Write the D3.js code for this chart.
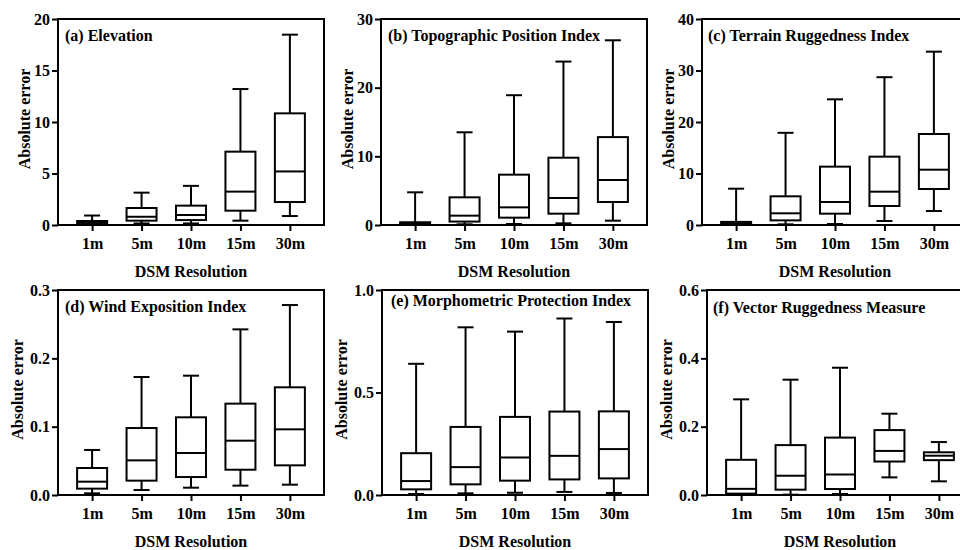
<!DOCTYPE html>
<html>
<head>
<meta charset="utf-8">
<script src="https://cdn.jsdelivr.net/npm/d3@7"></script>
<style>
  html, body { margin: 0; padding: 0; background: #fff; }
  svg { display: block; }
  svg text { font-family: "Liberation Serif", "Times New Roman", Tinos, "DejaVu Serif", serif; font-weight: 700; fill: #000; }
</style>
</head>
<body>
<svg id="chart" width="960" height="550"></svg>
<script>
// ---------- DATA ----------
const categories = ["1m", "5m", "10m", "15m", "30m"];
const panelTitles = [
  "(a) Elevation",
  "(b) Topographic Position Index",
  "(c) Terrain Ruggedness Index",
  "(d) Wind Exposition Index",
  "(e) Morphometric Protection Index",
  "(f) Vector Ruggedness Measure"
];
const yAxisLabel = "Absolute error";
const xAxisLabel = "DSM Resolution";

// [min, q1, median, q3, max]
const elevation = [
  [0.02, 0.05, 0.2, 0.39, 0.92],
  [0.15, 0.42, 0.8, 1.65, 3.14],
  [0.15, 0.48, 0.97, 1.88, 3.8],
  [0.42, 1.39, 3.24, 7.12, 13.2],
  [0.87, 2.23, 5.2, 10.84, 18.48]
];
const tpi = [
  [0.02, 0.05, 0.2, 0.4, 4.76],
  [0.1, 0.5, 1.36, 4.03, 13.5],
  [0.15, 1.07, 2.57, 7.33, 18.9],
  [0.24, 1.65, 3.93, 9.8, 23.8],
  [0.63, 3.35, 6.55, 12.8, 26.9]
];
const tri = [
  [0.02, 0.1, 0.3, 0.6, 7.05],
  [0.13, 0.9, 2.27, 5.57, 17.9],
  [0.2, 2.2, 4.47, 11.33, 24.4],
  [0.78, 3.69, 6.47, 13.27, 28.7],
  [2.72, 6.99, 10.74, 17.67, 33.66]
];
const wei = [
  [0.0024, 0.0093, 0.0195, 0.0395, 0.0659],
  [0.0073, 0.021, 0.0507, 0.098, 0.1727],
  [0.0107, 0.0263, 0.0615, 0.1137, 0.1746],
  [0.0137, 0.037, 0.0795, 0.1337, 0.2424],
  [0.0151, 0.0434, 0.0961, 0.1576, 0.278]
];
const mpi = [
  [0.005, 0.0276, 0.068, 0.204, 0.64],
  [0.008, 0.052, 0.136, 0.332, 0.818],
  [0.011, 0.07, 0.183, 0.381, 0.797],
  [0.015, 0.076, 0.191, 0.407, 0.861],
  [0.01, 0.081, 0.224, 0.408, 0.844]
];
const vrm = [
  [0.001, 0.004, 0.018, 0.103, 0.28],
  [0.001, 0.0156, 0.0564, 0.146, 0.3375],
  [0.003, 0.0175, 0.06, 0.168, 0.3725],
  [0.0516, 0.098, 0.129, 0.19, 0.238],
  [0.04, 0.102, 0.115, 0.125, 0.155]
];

const yTicksA = [0, 5, 10, 15, 20];
const yTicksB = [0, 10, 20, 30];
const yTicksC = [0, 10, 20, 30, 40];
const yTicksD = [0, 0.1, 0.2, 0.3];
const yTicksE = [0, 0.5, 1.0];
const yTicksF = [0, 0.2, 0.4, 0.6];

const panelData = [elevation, tpi, tri, wei, mpi, vrm];
const panelTicks = [yTicksA, yTicksB, yTicksC, yTicksD, yTicksE, yTicksF];
const tickFormats = [d3.format("d"), d3.format("d"), d3.format("d"), d3.format(".1f"), d3.format(".1f"), d3.format(".1f")];

// ---------- LAYOUT ----------
const layout = [
  { x0: 58,  top: 19,  bottom: 225, titleDy: 22, titleDx: 7, ylab: 28 },
  { x0: 381, top: 19,  bottom: 225, titleDy: 22, titleDx: 7, ylab: 28 },
  { x0: 702, top: 19,  bottom: 225, titleDy: 22, titleDx: 6, ylab: 28 },
  { x0: 58,  top: 290, bottom: 495, titleDy: 22, titleDx: 7, ylab: 35 },
  { x0: 382, top: 290, bottom: 495, titleDy: 16, titleDx: 9, ylab: 35 },
  { x0: 707, top: 290, bottom: 495, titleDy: 23, titleDx: 6, ylab: 35 }
];
const plotW = 266;
const boxW = 30;
const capW = 16;
const sw = 2;
const fontSize = 16;
const FONT = '"Liberation Serif", "Times New Roman", Tinos, "DejaVu Serif", serif';

const svg = d3.select("#chart");

function styleText(sel) {
  sel.attr("font-size", fontSize).attr("font-family", FONT).attr("font-weight", 700).attr("fill", "#000");
}

layout.forEach((L, i) => {
  const g = svg.append("g");
  const x = d3.scalePoint().domain(categories).range([L.x0, L.x0 + plotW]).padding(0.69);
  const ticks = panelTicks[i];
  const y = d3.scaleLinear().domain([0, ticks[ticks.length - 1]]).range([L.bottom, L.top]);

  // y axis
  const yAxis = d3.axisLeft(y).tickValues(ticks).tickSize(6).tickPadding(2).tickFormat(tickFormats[i]);
  const ya = g.append("g").attr("transform", `translate(${L.x0},0)`).call(yAxis);
  ya.attr("font-family", FONT).attr("font-size", fontSize);
  ya.select(".domain").remove();
  ya.selectAll("line").attr("stroke", "#000").attr("stroke-width", sw);
  styleText(ya.selectAll("text"));

  // x axis
  const xAxis = d3.axisBottom(x).tickSize(6).tickPadding(7);
  const xa = g.append("g").attr("transform", `translate(0,${L.bottom})`).call(xAxis);
  xa.attr("font-family", FONT).attr("font-size", fontSize);
  xa.select(".domain").remove();
  xa.selectAll("line").attr("stroke", "#000").attr("stroke-width", sw);
  styleText(xa.selectAll("text"));

  // boxes
  const data = panelData[i].map((d, k) => ({ cat: categories[k], min: d[0], q1: d[1], med: d[2], q3: d[3], max: d[4] }));
  const bg = g.append("g").attr("stroke", "#000").attr("stroke-width", sw).attr("fill", "none");
  data.forEach(d => {
    const cx = x(d.cat);
    bg.append("line").attr("x1", cx).attr("x2", cx).attr("y1", y(d.q3)).attr("y2", y(d.max));
    bg.append("line").attr("x1", cx).attr("x2", cx).attr("y1", y(d.q1)).attr("y2", y(d.min));
    bg.append("line").attr("x1", cx - capW / 2).attr("x2", cx + capW / 2).attr("y1", y(d.max)).attr("y2", y(d.max));
    bg.append("line").attr("x1", cx - capW / 2).attr("x2", cx + capW / 2).attr("y1", y(d.min)).attr("y2", y(d.min));
    bg.append("rect").attr("x", cx - boxW / 2).attr("width", boxW)
      .attr("y", y(d.q3)).attr("height", Math.max(0, y(d.q1) - y(d.q3)))
      .attr("fill", "#fff");
    bg.append("line").attr("x1", cx - boxW / 2).attr("x2", cx + boxW / 2).attr("y1", y(d.med)).attr("y2", y(d.med));
  });

  // frame
  g.append("rect").attr("x", L.x0).attr("y", L.top).attr("width", plotW).attr("height", L.bottom - L.top)
    .attr("fill", "none").attr("stroke", "#000").attr("stroke-width", sw);

  // title
  styleText(g.append("text").attr("x", L.x0 + L.titleDx).attr("y", L.top + L.titleDy).text(panelTitles[i]));

  // y label
  const cy = (L.top + L.bottom) / 2 - 3;
  styleText(g.append("text").attr("transform", `translate(${L.x0 - L.ylab},${cy}) rotate(-90)`)
    .attr("text-anchor", "middle").text(yAxisLabel));

  // x label
  styleText(g.append("text").attr("x", L.x0 + plotW / 2).attr("y", L.bottom + 52)
    .attr("text-anchor", "middle").text(xAxisLabel));
});
</script>
</body>
</html>
